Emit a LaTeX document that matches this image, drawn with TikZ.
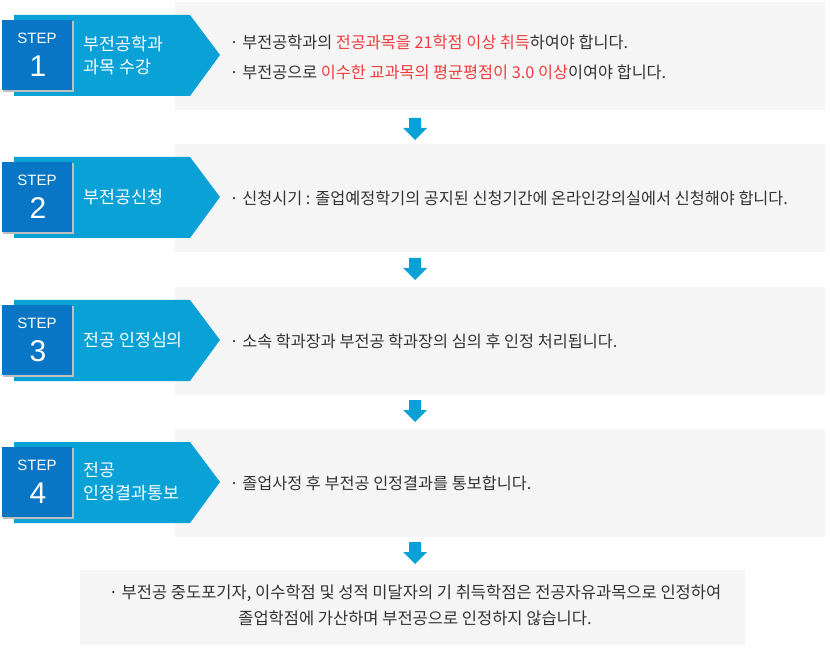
\documentclass[tikz,border=0pt]{standalone}
\usepackage{fontspec}
\setmainfont{Noto Sans CJK KR}
\newfontfamily\lat{Liberation Sans}
\definecolor{lb}{HTML}{0AA2D6}
\definecolor{db}{HTML}{0876C4}
\definecolor{gb}{HTML}{F5F5F5}
\definecolor{rd}{HTML}{F03C3C}
\definecolor{tx}{HTML}{333333}
\begin{document}
\begin{tikzpicture}[x=1pt,y=-1pt,
  body/.style={font=\fontsize{16.3}{30}\selectfont, text=tx, anchor=west, align=left},
  title/.style={font=\fontsize{17.3}{23}\selectfont, text=white, anchor=west, align=left},
  down/.style={fill=lb}]
\useasboundingbox (0,0) rectangle (830,660);
\foreach \i/\c in {1/55,2/197,3/340,4/482}{
  \fill[gb] (175,\c-53) rectangle (825,\c+55);
  \fill[lb] (14,\c-40) -- (190,\c-40) -- (220,\c) -- (190,\c+41) -- (14,\c+41) -- cycle;
  \fill[black!25] (3,\c-34) rectangle (74,\c+37);
  \fill[db] (2,\c-35) rectangle (72,\c+35);
  \node[text=white,font=\lat\fontsize{15}{15}\selectfont] (s\i) at (37,\c-17) {STEP};
  \node[text=white,font=\lat\fontsize{30}{30}\selectfont] (n\i) at (38,\c+11) {\i};
}
\node[title] (t1) at (80,55) {부전공학과\\과목 수강};
\node[title] (t2) at (80,197) {부전공신청};
\node[title] (t3) at (80,340) {전공 인정심의};
\node[title] (t4) at (80,482) {전공\\인정결과통보};
\node[body] (b1) at (226,57) {· 부전공학과의 {\color{rd}전공과목을 21학점 이상 취득}하여야 합니다.\\· 부전공으로 {\color{rd}이수한 교과목의 평균평점이 3.0 이상}이여야 합니다.};
\node[body] (b2) at (226,198) {· 신청시기 : 졸업예정학기의 공지된 신청기간에 온라인강의실에서 신청해야 합니다.};
\node[body] (b3) at (226,341) {· 소속 학과장과 부전공 학과장의 심의 후 인정 처리됩니다.};
\node[body] (b4) at (226,483) {· 졸업사정 후 부전공 인정결과를 통보합니다.};
\fill[gb] (80,570) rectangle (745,645);
\node[font=\fontsize{16.5}{26}\selectfont,text=tx,align=center] (f) at (415,605) {· 부전공 중도포기자, 이수학점 및 성적 미달자의 기 취득학점은 전공자유과목으로 인정하여\\졸업학점에 가산하며 부전공으로 인정하지 않습니다.};
\foreach \y in {118,258,400,542}{
  \fill[down] (409,\y) rectangle (421,\y+10) (403,\y+10) -- (427,\y+10) -- (415,\y+22) -- cycle;
}
\end{tikzpicture}
\end{document}
